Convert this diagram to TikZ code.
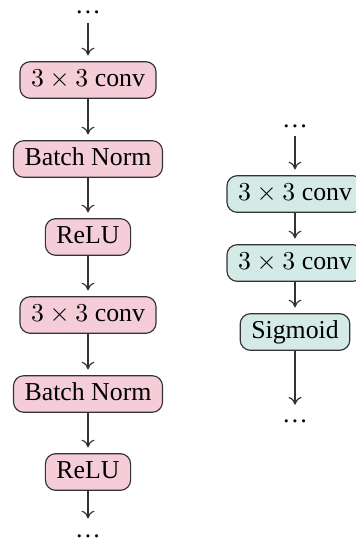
\documentclass[tikz,border=0pt]{standalone}
\usepackage{fontspec}
\setmainfont{Liberation Serif}
\usetikzlibrary{arrows.meta}
\definecolor{pinkfill}{HTML}{F4CDD9}
\definecolor{tealfill}{HTML}{D3EAE6}
\tikzset{
  blk/.style={draw=black!80, line width=0.45pt, rounded corners=4pt, inner xsep=4.3pt, inner ysep=2.6pt, text height=7pt, text depth=2pt},
  pblk/.style={blk, fill=pinkfill},
  tblk/.style={blk, fill=tealfill},
  dotnode/.style={inner sep=0pt, anchor=base},
  conn/.style={draw=black!80, line width=0.45pt, -{To[length=3pt,width=5pt]}, shorten >=2.2pt},
}
\begin{document}
\begin{tikzpicture}[x=0.3876pt, y=-0.3876pt]
\useasboundingbox (0,0) rectangle (356,541);
% left column
\node[dotnode] (l0) at (88,14) {\dots};
\node[pblk] (l1) at (88,80) {$3\times3$ conv};
\node[pblk] (l2) at (88,159) {Batch Norm};
\node[pblk] (l3) at (88,237) {ReLU};
\node[pblk] (l4) at (88,315) {$3\times3$ conv};
\node[pblk] (l5) at (88,394) {Batch Norm};
\node[pblk] (l6) at (88,472) {ReLU};
\node[dotnode] (l7) at (88,537) {\dots};
\draw[conn] ([yshift=-3.5pt]l0.base) -- (l1);
\draw[conn] (l1) -- (l2);
\draw[conn] (l2) -- (l3);
\draw[conn] (l3) -- (l4);
\draw[conn] (l4) -- (l5);
\draw[conn] (l5) -- (l6);
\draw[conn] (l6) -- ([yshift=5pt]l7.base);
% right column
\node[dotnode] (r0) at (295,127) {\dots};
\node[tblk] (r1) at (295,194) {$3\times3$ conv};
\node[tblk] (r2) at (295,263) {$3\times3$ conv};
\node[tblk] (r3) at (295,332) {Sigmoid};
\node[dotnode] (r4) at (295,422) {\dots};
\draw[conn] ([yshift=-3.5pt]r0.base) -- (r1);
\draw[conn] (r1) -- (r2);
\draw[conn] (r2) -- (r3);
\draw[conn] (r3) -- ([yshift=4.5pt]r4.base);
\end{tikzpicture}
\end{document}
